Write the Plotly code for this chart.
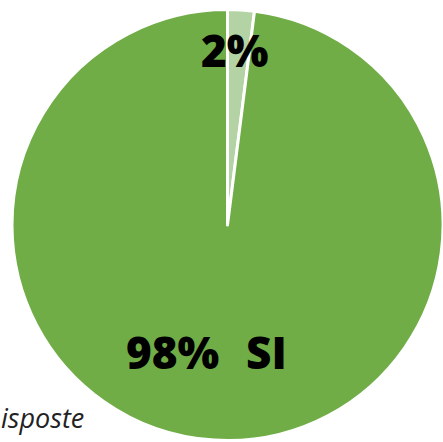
import plotly.graph_objects as go

labels = ["NO", "SI"]
values = [2, 98]
colors = ["#b4d3a4", "#70ad47"]
pct_labels = ["2%", "98%"]
caption = "isposte"

W, H = 443, 442
cx, cy, r = 228.0, 225.0, 216.0

fig = go.Figure(go.Pie(
    labels=labels,
    values=values,
    sort=False,
    direction="clockwise",
    rotation=0,
    marker=dict(colors=colors, line=dict(color="white", width=3)),
    textinfo="none",
    hoverinfo="none",
    showlegend=False,
    domain=dict(x=[(cx - r) / W, min(1.0, (cx + r) / W)],
                y=[max(0.0, 1 - (cy + r) / H), 1 - (cy - r) / H]),
))

bold = dict(family="Open Sans", size=44, color="black", weight=800)

def px(x, y):
    return x / W, 1 - y / H

ann = []
x0, y0 = px(235, 50)
ann.append(dict(x=x0, y=y0, text=pct_labels[0], font=bold))
x1, y1 = px(172, 352)
ann.append(dict(x=x1, y=y1, text=pct_labels[1], font=bold))
x2, y2 = px(266.5, 352)
ann.append(dict(x=x2, y=y2, text=labels[1], font=bold))
x3, y3 = px(-1, 417)
ann.append(dict(x=x3, y=y3, text=caption, xanchor="left",
                font=dict(family="Open Sans", size=27, color="#222222", style="italic")))
for a in ann:
    a.update(xref="paper", yref="paper", showarrow=False)
    a.setdefault("xanchor", "center")
    a["yanchor"] = "middle"

fig.update_layout(
    width=W, height=H,
    margin=dict(l=0, r=0, t=0, b=0),
    paper_bgcolor="white",
    plot_bgcolor="white",
    annotations=ann,
)

fig.write_html("out.html",
               config={"displayModeBar": False},
               post_script="document.body.style.margin='0';document.body.style.overflow='hidden';")
